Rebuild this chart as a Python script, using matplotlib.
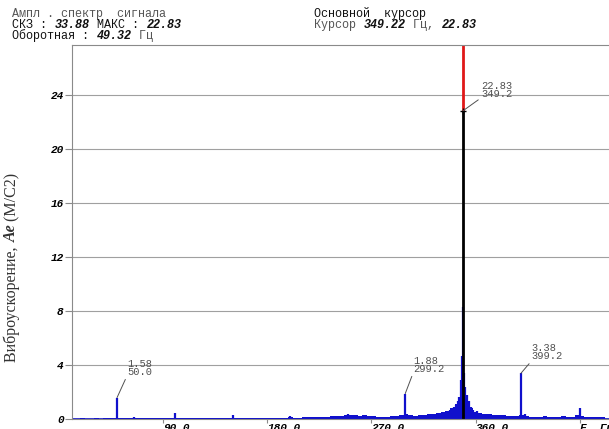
import numpy as np
import matplotlib
matplotlib.use("Agg")
import matplotlib.pyplot as plt

# spectrum noise floor, 4 Hz bins
floor_hz = np.arange(12, 473, 4)
floor_amp = [
    .03, .03, .04, .03, .03, .04, .03, .04, .05, .08, .08, .04, .05, .06, .04, .04, .05, .04, .04, .05, .05, .06, .08,
    .05, .06, .05, .06, .07, .06, .07, .08, .07, .08, .08, .10, .09, .08, .09, .10, .09, .08, .10, .09, .08, .10, .10,
    .11, .12, .10, .11, .12, .14, .16, .15,
    .18, .16, .20, .22, .25, .28, .30, .26, .24, .27, .22, .20, .18, .17, .18, .20, .22, .30, .35, .28, .24, .28, .32,
    .36, .40, .45, .50, .60, .80, 1.1, 1.5,
    1.2, .80, .55, .45, .40, .35, .32, .28, .26, .22, .20, .22, .30, .20, .18, .17, .18, .20, .17, .16, .18, .20, .17,
    .18, .30, .25, .18, .15, .17, .16, .15,
]

# discrete spectral lines
peak_hz = [50.0, 64.8, 100.2, 150.0, 199.6, 250.0, 299.2,
           335.0, 338.0, 341.0, 343.0, 344.5, 346.0, 347.5, 348.4, 348.8,
           350.0, 351.0, 352.5, 354.0, 356.0, 358.0, 361.0,
           399.2, 403.0, 450.3]
peak_amp = [1.58, 0.12, 0.45, 0.30, 0.25, 0.35, 1.88,
            0.6, 0.7, 0.9, 1.0, 1.3, 1.6, 2.9, 4.7, 8.3,
            3.4, 2.4, 1.8, 1.3, 0.9, 0.7, 0.6,
            3.38, 0.4, 0.8]

cursor_hz = 349.2
cursor_amp = 22.83

# labelled peaks: (freq, amp, text offset in px)
labels = [(50.0, 1.58, (10, 21)), (299.2, 1.88, (8, 20)),
          (399.2, 3.38, (11, 12)), (349.2, 22.83, (18, 12))]

x_ticks = [90, 180, 270, 360, 450]
x_ticklabels = ["90.0", "180.0", "270.0", "360.0", "F, Гц"]
y_ticks = [0, 4, 8, 12, 16, 20, 24]

W, H = 609, 429
BLUE = "#1010cc"
GREY = "#8a8a8a"
MONO = "Liberation Mono"
SERIF = "Liberation Serif"

fig = plt.figure(figsize=(W / 100, H / 100), dpi=100)
ax = fig.add_axes([72 / W, 1 - 419 / H, 1 - 72 / W, (419 - 45) / H])

ax.fill_between(floor_hz, floor_amp, step="mid", color=BLUE, lw=0)
ax.vlines(peak_hz, 0, peak_amp, color=BLUE, lw=1.6)
ax.plot([12, 475], [0.02, 0.02], color=BLUE, lw=1.2)

ax.vlines(cursor_hz, 0, cursor_amp, color="black", lw=2)
ax.vlines(cursor_hz, cursor_amp, 40, color="#e01818", lw=2)
ax.plot(cursor_hz, cursor_amp, marker="+", color="black", ms=5, mew=1)

for f, a, (dx, dy) in labels:
    ax.annotate(f"{a:.2f}\n{f:.1f}", xy=(f, a), xytext=(dx * 0.72, dy * 0.72),
                textcoords="offset points", fontsize=7.5, family=MONO,
                color="#505050", ha="left", va="bottom", linespacing=0.75,
                arrowprops=dict(arrowstyle="-", color="#505050", lw=0.7,
                                shrinkA=0, shrinkB=0, relpos=(0, 0.05)))

ax.set_xlim(11.07, 475.4)
ax.set_ylim(0, 27.7)
ax.set_yticks(y_ticks)
ax.set_yticklabels([str(v) for v in y_ticks], fontsize=8, family=MONO,
                   fontweight="bold", fontstyle="italic")
ax.set_xticks(x_ticks)
ax.set_xticklabels(x_ticklabels, fontsize=8, family=MONO,
                   fontweight="bold", fontstyle="italic", ha="left")
ax.tick_params(axis="y", length=5, color=GREY, pad=1)
ax.tick_params(axis="x", length=3, color=GREY, pad=0)
ax.grid(axis="y", color="#a0a0a0", lw=0.8)
ax.set_axisbelow(True)
for s in ["left", "top", "bottom"]:
    ax.spines[s].set_color(GREY)
ax.spines["right"].set_visible(False)

# y label in three pieces, the middle one bold italic
r = fig.canvas.get_renderer()
ypos = 362
for txt, bold in [("Виброускорение, ", False), ("Ae", True), (" (M/C2)", False)]:
    t = fig.text(12 / W, 1 - ypos / H, txt, rotation=90, family=SERIF,
                 fontsize=11.5, ha="center", va="bottom", color="#333333",
                 fontweight="bold" if bold else "normal",
                 fontstyle="italic" if bold else "normal")
    ypos -= t.get_window_extent(r).height

# header texts, mixed styles on a monospace grid
def line(x, y, parts, fs=8.5):
    cw = 0.6 * fs * 100 / 72
    for txt, style in parts:
        kw = dict(family=MONO, fontsize=fs, va="baseline", ha="left")
        if style == "b":
            kw.update(fontweight="bold", fontstyle="italic", color="#111111")
        elif style == "k":
            kw.update(color="#111111")
        else:
            kw.update(color="#555555")
        fig.text(x / W, 1 - y / H, txt, **kw)
        x += cw * len(txt)

line(12, 17, [("Ампл . спектр  сигнала", "g")])
line(12, 28, [("СКЗ : ", "k"), ("33.88", "b"), (" МАКС : ", "k"), ("22.83", "b")])
line(12, 39, [("Оборотная : ", "k"), ("49.32", "b"), (" Гц", "g")])
line(314, 17, [("Основной  курсор", "k")])
line(314, 28, [("Курсор ", "g"), ("349.22", "b"), (" Гц, ", "g"), ("22.83", "b")])

fig.savefig("out.png", dpi=100)
